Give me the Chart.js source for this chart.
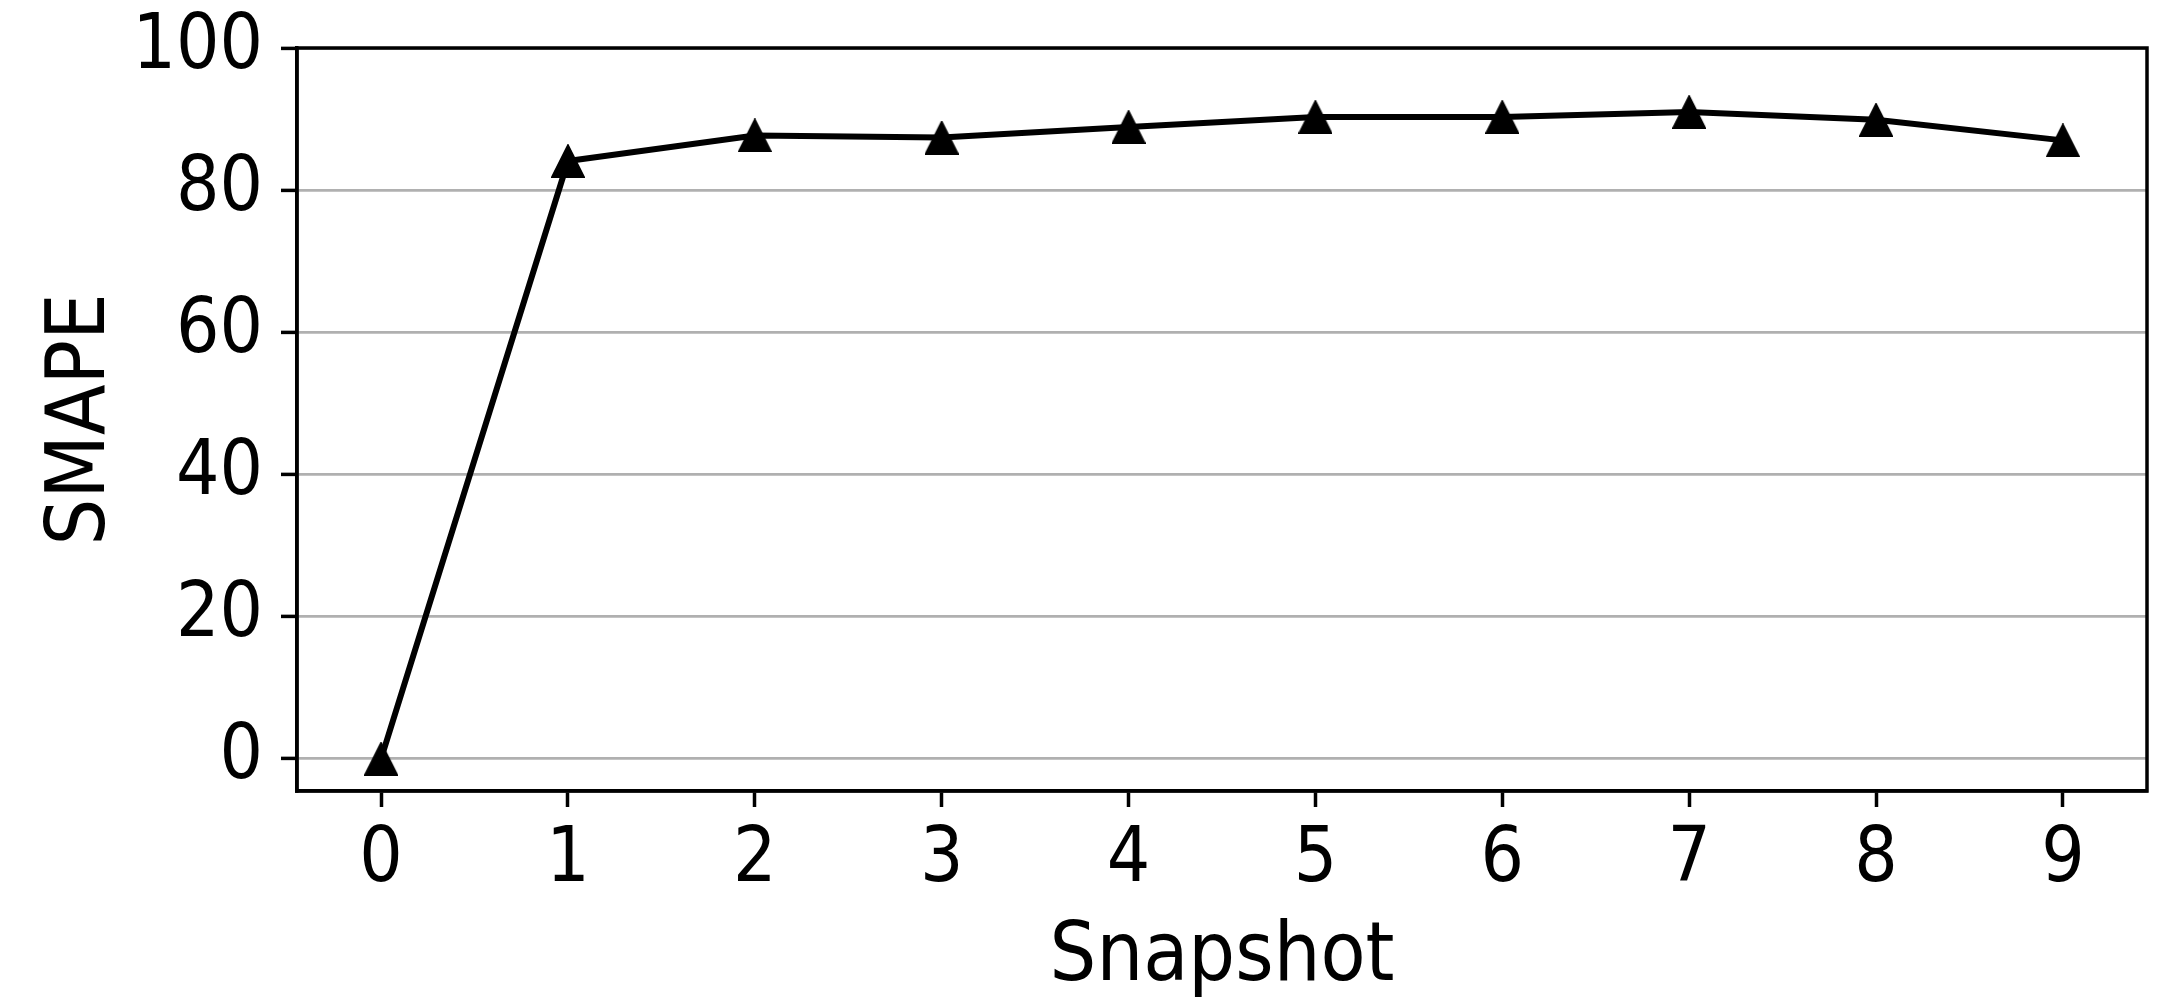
<!DOCTYPE html>
<html>
<head>
<meta charset="utf-8">
<script src="https://cdn.jsdelivr.net/npm/chart.js@4.4.1/dist/chart.umd.min.js"></script>
<style>
  html, body { margin: 0; padding: 0; background: #ffffff; }
  #c { display: block; }
</style>
</head>
<body>
<canvas id="c" width="2161" height="997" style="width:2161px;height:997px"></canvas>
<script>
// ---- Data ----
const snapshots = [0, 1, 2, 3, 4, 5, 6, 7, 8, 9];
const smape = [0, 84.1, 87.7, 87.4, 88.9, 90.3, 90.3, 91.0, 89.9, 87.0];
const yTickValues = [0, 20, 40, 60, 80, 100];
const xTickValues = [0, 1, 2, 3, 4, 5, 6, 7, 8, 9];
const xAxisTitle = 'Snapshot';
const yAxisTitle = 'SMAPE';

// ---- Styles ----
const FONT = "'DejaVu Sans Condensed', 'DejaVu Sans', sans-serif";
const AREA = { left: 297, right: 2147, top: 48, bottom: 791 };
const W = 2161, H = 997;

// matplotlib-like '^' marker
function makeTriangle(size) {
  const c = document.createElement('canvas');
  c.width = size; c.height = size;
  const g = c.getContext('2d');
  g.fillStyle = '#000';
  g.strokeStyle = '#000';
  g.lineWidth = 1.5;
  g.beginPath();
  g.moveTo(size / 2, 0.75);
  g.lineTo(size - 0.75, size - 0.75);
  g.lineTo(0.75, size - 0.75);
  g.closePath();
  g.fill();
  g.stroke();
  return c;
}
const tri = makeTriangle(34);

const points = snapshots.map((s, i) => ({ x: s, y: smape[i] }));

const framePlugin = {
  id: 'frame',
  afterDraw(chart) {
    const a = chart.chartArea;
    const ctx = chart.ctx;
    ctx.save();
    ctx.strokeStyle = '#000';
    ctx.lineWidth = 3.5;
    ctx.strokeRect(a.left, a.top, a.right - a.left, a.bottom - a.top);
    ctx.restore();
  }
};

new Chart(document.getElementById('c'), {
  type: 'line',
  data: {
    datasets: [{
      data: points,
      borderColor: '#000',
      borderWidth: 6,
      tension: 0,
      fill: false,
      pointStyle: tri,
      pointRadius: 17,
      pointHoverRadius: 17,
      backgroundColor: '#000'
    }]
  },
  options: {
    responsive: false,
    animation: false,
    devicePixelRatio: 1,
    layout: {
      autoPadding: false,
      padding: { top: AREA.top, right: W - AREA.right, left: 0, bottom: 0 }
    },
    plugins: { legend: { display: false }, tooltip: { enabled: false } },
    scales: {
      x: {
        type: 'linear',
        min: -0.45,
        max: 9.45,
        afterBuildTicks(scale) { scale.ticks = xTickValues.map(v => ({ value: v })); },
        afterFit(scale) {
          scale.height = H - AREA.bottom;
          scale.paddingLeft = 0; scale.paddingRight = 0;
        },
        grid: {
          drawOnChartArea: false,
          drawTicks: true,
          tickLength: 16,
          tickColor: '#000',
          tickWidth: 3.5,
          color: '#000'
        },
        border: { display: true, color: '#000', width: 3.5 },
        ticks: {
          color: '#000',
          padding: 9,
          maxRotation: 0,
          autoSkip: false,
          font: { family: FONT, size: 76 },
          callback: v => String(v)
        },
        title: {
          display: true,
          text: xAxisTitle,
          color: '#000',
          font: { family: FONT, size: 82, lineHeight: 0.9 },
          padding: { top: 0, bottom: 1 }
        }
      },
      y: {
        type: 'linear',
        min: -4.55,
        max: 100,
        afterBuildTicks(scale) { scale.ticks = yTickValues.map(v => ({ value: v })); },
        afterFit(scale) {
          scale.width = AREA.left;
          scale.paddingTop = 0; scale.paddingBottom = 0;
        },
        grid: {
          drawOnChartArea: true,
          drawTicks: true,
          tickLength: 16,
          tickColor: '#000',
          tickWidth: 3.5,
          color: '#b0b0b0',
          lineWidth: 2.8
        },
        border: { display: true, color: '#000', width: 3.5 },
        ticks: {
          color: '#000',
          padding: 18,
          autoSkip: false,
          font: { family: FONT, size: 76 },
          callback: v => String(v)
        },
        title: {
          display: true,
          text: yAxisTitle,
          color: '#000',
          font: { family: FONT, size: 82, lineHeight: 1 },
          padding: { top: 42, bottom: 0 }
        }
      }
    }
  },
  plugins: [framePlugin]
});
</script>
</body>
</html>
